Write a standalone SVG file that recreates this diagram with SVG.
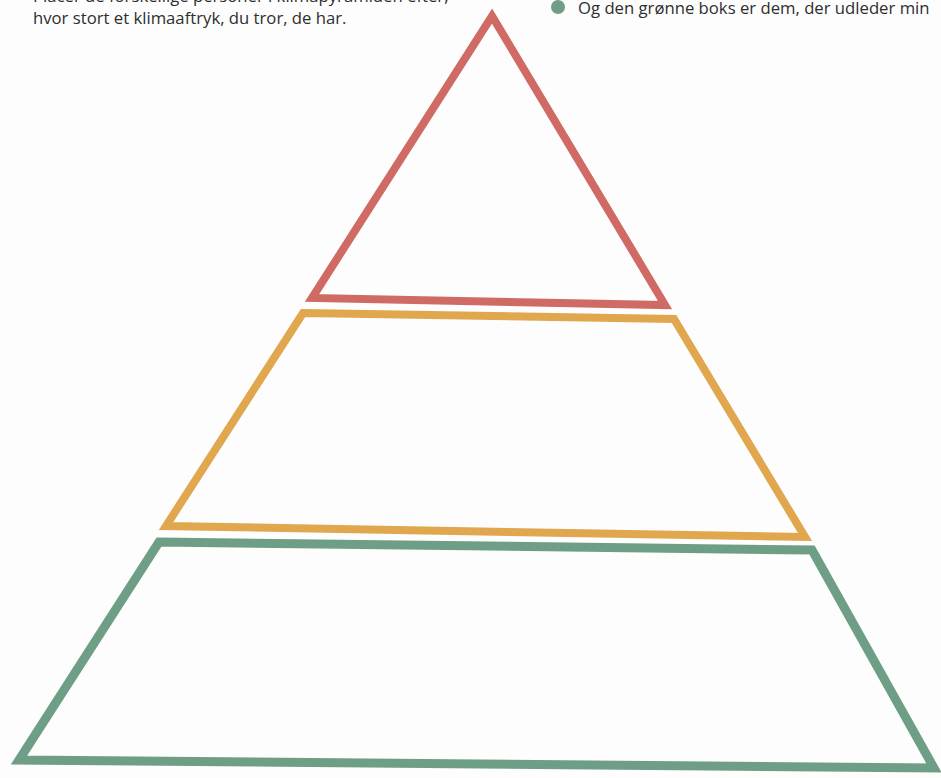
<svg xmlns="http://www.w3.org/2000/svg" width="941" height="778" viewBox="0 0 941 778">
<style>
.t{font-family:"Open Sans","Lato","Liberation Sans",sans-serif;fill:#2e2e2e;font-size:16.7px}
.lvl{fill:none;stroke-linejoin:miter;stroke-miterlimit:10}
</style>
<rect width="941" height="778" fill="#fdfdfd"/>
<g id="text-left">
<text class="t" x="33" y="1.5">Placer de forskellige personer i klimapyramiden efter,</text>
<text class="t" x="33" y="23.5">hvor stort et klimaaftryk, du tror, de har.</text>
</g>
<g id="legend-green">
<circle cx="558" cy="7" r="7" fill="#6e9e85"/>
<text class="t" x="578" y="14">Og den grønne boks er dem, der udleder min</text>
</g>
<g id="level-top">
<polygon class="lvl" points="492,16 665,305 312,298" stroke="#d06a65" stroke-width="8"/>
</g>
<g id="level-middle">
<polygon class="lvl" points="303,313 674,319 805,537 166,526" stroke="#e0a74f" stroke-width="8"/>
</g>
<g id="level-bottom">
<polygon class="lvl" points="159,542 812,550 934,768 19,760" stroke="#6e9e85" stroke-width="9"/>
</g>
<g id="connectors"></g>
</svg>
